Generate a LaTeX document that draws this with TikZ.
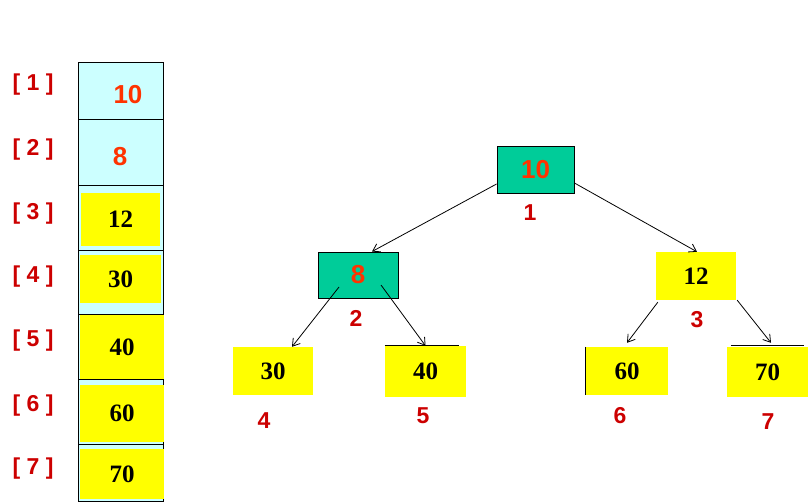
\documentclass[tikz,border=0pt]{standalone}
\usepackage{fontspec}
\setmainfont{Liberation Serif}
\newfontfamily\arialfont{Liberation Sans}
\usetikzlibrary{arrows.meta,calc}
\definecolor{cellcyan}{HTML}{CCFFFF}
\definecolor{hiyellow}{HTML}{FFFF00}
\definecolor{nodegreen}{HTML}{00CC99}
\definecolor{idxred}{HTML}{CC0000}
\definecolor{valorange}{HTML}{FF3300}
\begin{document}
\begin{tikzpicture}[x=1pt,y=-1pt,
  cell/.style={draw=black,line width=0.9pt,fill=cellcyan,minimum width=85pt,inner sep=0pt},
  ybox/.style={fill=hiyellow,inner sep=0pt,font=\fontsize{25}{25}\bfseries\selectfont},
  gbox/.style={draw=black,line width=0.9pt,fill=nodegreen,inner sep=0pt,text=valorange,font=\arialfont\fontsize{26}{26}\bfseries\selectfont},
  orangenum/.style={text=valorange,font=\arialfont\fontsize{26}{26}\bfseries\selectfont},
  idx/.style={text=idxred,font=\arialfont\fontsize{23}{23}\bfseries\selectfont},
  edge/.style={line width=0.8pt,-{Straight Barb[length=7pt,width=9pt]}}
]
\useasboundingbox (0,0) rectangle (808,503);
% array
\node[cell,minimum height=57pt] (c1) at (120.5,90.5) {};
\node[cell,minimum height=66pt] (c2) at (120.5,152) {};
\node[cell,minimum height=65pt] (c3) at (120.5,217.5) {};
\node[cell,minimum height=64pt] (c4) at (120.5,282) {};
\node[cell,minimum height=65pt] (c5) at (120.5,346.5) {};
\node[cell,minimum height=65pt] (c6) at (120.5,411.5) {};
\node[cell,minimum height=57pt] (c7) at (120.5,472.5) {};
\node[orangenum] (a1) at (128,95) {10};
\node[orangenum] (a2) at (120,157) {8};
\node[ybox,minimum width=79pt,minimum height=53pt] (a3) at (120.5,219.5) {12};
\node[ybox,minimum width=81pt,minimum height=48pt] (a4) at (120.5,279) {30};
\node[ybox,minimum width=84pt,minimum height=64pt] (a5) at (122,347) {40};
\node[ybox,minimum width=84pt,minimum height=57pt] (a6) at (122,413.5) {60};
\node[ybox,minimum width=84pt,minimum height=50pt] (a7) at (122,474) {70};
% indices
\node[idx] (i1) at (33,85) {[ 1 ]};
\node[idx] (i2) at (33,150) {[ 2 ]};
\node[idx] (i3) at (33,214) {[ 3 ]};
\node[idx] (i4) at (33,277) {[ 4 ]};
\node[idx] (i5) at (33,341) {[ 5 ]};
\node[idx] (i6) at (33,406) {[ 6 ]};
\node[idx] (i7) at (33,469) {[ 7 ]};
% tree
\node[gbox,minimum width=77pt,minimum height=47pt] (n1) at (535.5,169.5) {10\hspace{8pt}};
\node[gbox,minimum width=80pt,minimum height=46pt] (n2) at (358,275) {8\hspace{12pt}};
\node[ybox,minimum width=80pt,minimum height=48pt] (n3) at (696,276) {12};
\node[ybox,minimum width=80pt,minimum height=48pt] (n4) at (273,371) {30};
\node[ybox,minimum width=81pt,minimum height=51pt] (n5) at (425.5,371.5) {40};
\node[ybox,minimum width=82pt,minimum height=48pt] (n6) at (627,371) {60};
\node[ybox,minimum width=81pt,minimum height=50pt] (n7) at (767.5,372) {70};
\draw[line width=0.9pt] (n5.north west) -- ($(n5.north east)+(-7,0)$);
\draw[line width=0.9pt] (n6.north west) -- (n6.south west);
\draw[line width=0.9pt] ($(n7.north west)+(4,-1)$) -- ($(n7.north east)+(-4,-1)$);
% labels
\node[idx] (l1) at (530,213) {1};
\node[idx] (l2) at (356,318) {2};
\node[idx] (l3) at (697,320) {3};
\node[idx] (l4) at (264,421) {4};
\node[idx] (l5) at (423,416) {5};
\node[idx] (l6) at (620,416) {6};
\node[idx] (l7) at (768,422) {7};
% edges
\draw[edge] ($(n1.west)+(0,14.5)$) -- ($(n2.north)+(14,0)$);
\draw[edge] ($(n1.east)+(0,13.5)$) -- ($(n3.north)+(1,0)$);
\draw[edge] ($(n2.center)+(-19,12)$) -- ($(n4.north)+(19,0)$);
\draw[edge] ($(n2.center)+(23,10)$) -- (n5.north);
\draw[edge] ($(n3.south west)+(2,2)$) -- ($(n6.north)+(0,-4)$);
\draw[edge] ($(n3.south east)+(1,0)$) -- ($(n7.north)+(3.5,-4)$);
\end{tikzpicture}
\end{document}
